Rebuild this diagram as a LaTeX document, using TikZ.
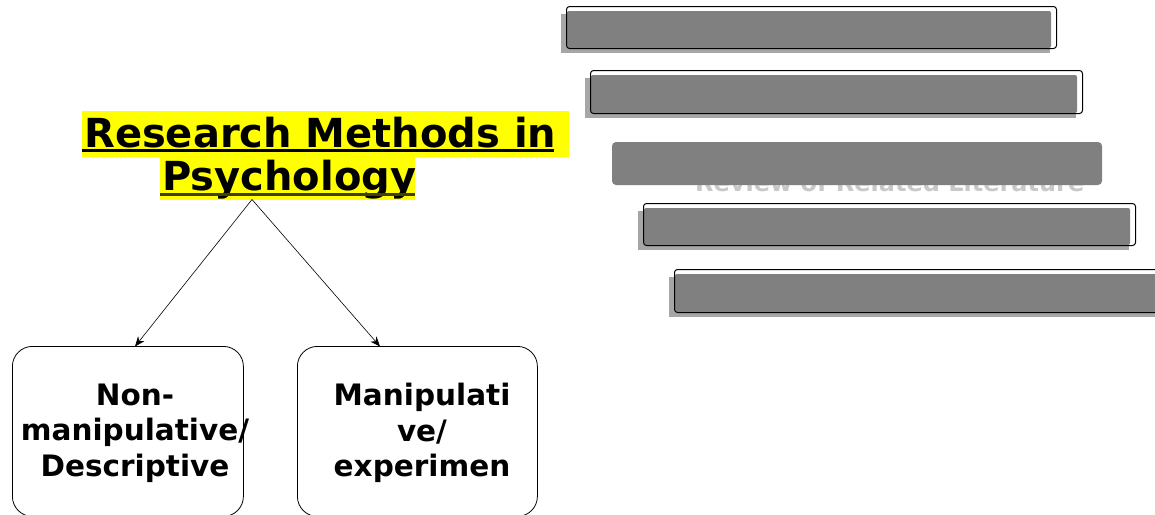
\documentclass[tikz,border=0pt]{standalone}
\usepackage{fontspec}
\setmainfont{DejaVu Sans}
\usetikzlibrary{arrows.meta}
\definecolor{bargray}{HTML}{808080}
\definecolor{shadowgray}{HTML}{A6A6A6}
\definecolor{ghosttext}{HTML}{C8C8C8}
\definecolor{hl}{HTML}{FFFF00}
\tikzset{
  barshadow/.style={fill=shadowgray},
  barwhite/.style={fill=white, rounded corners=3pt},
  barfill/.style={fill=bargray, rounded corners=2pt},
  barframe/.style={draw=black, line width=1pt, rounded corners=3pt, inner sep=0pt},
  methodbox/.style={draw=black, line width=0.8pt, rounded corners=20pt, inner sep=0pt, anchor=north west},
  boxtext/.style={font=\bfseries\fontsize{29.5}{35.5}\selectfont, align=center, inner sep=0pt},
  titletext/.style={font=\bfseries\fontsize{40}{44}\selectfont, inner sep=0pt, anchor=base west},
  branch/.style={draw=black, line width=0.6pt, -{Stealth[length=10pt,width=8pt]}},
}
\newcommand\framedbar[5]{%
  \fill[barshadow] (#2-5,#3+8) rectangle (#4-6,#5+5);
  \fill[barwhite] (#2,#3) rectangle (#4,#5);
  \fill[barfill] (#2+1,#3+5) rectangle (#4-5,#5);
  \node[barframe, anchor=north west, minimum width={(#4-#2)*1pt}, minimum height={(#5-#3)*1pt}] (#1) at (#2,#3) {};
}
\begin{document}
\begin{tikzpicture}[x=1pt,y=-1pt]
\clip (0,0) rectangle (1155,514);
\useasboundingbox (0,0) rectangle (1155,514);

% ---- bars on the right
\framedbar{bar1}{566}{6}{1056}{48}
\framedbar{bar2}{590}{70}{1082}{113}
\node[anchor=base west, inner sep=0pt, text=ghosttext, font=\bfseries\fontsize{24}{28}\selectfont] (rrl) at (695,191) {Review of Related Literature};
\fill[barfill, rounded corners=4pt] (612,142) rectangle (1102,185);
\framedbar{bar4}{643}{203}{1135}{245}
\framedbar{bar5}{674}{269}{1166}{312}

% ---- title
\fill[hl] (82,111) rectangle (569,157);
\fill[hl] (160,157) rectangle (415,200);
\node[titletext] (title1) at (84,147) {Research Methods in};
\node[titletext] (title2) at (162,190.5) {Psychology};
\draw[line width=2.2pt] (82,150.5) -- (554,150.5);
\draw[line width=2.2pt, draw=black!75!hl] (160,194.5) -- (415,194.5);
\coordinate (apex) at (252,199.5);

% ---- boxes
\node[methodbox, minimum width=231pt, minimum height=170pt] (box1) at (12,346) {};
\node[methodbox, minimum width=240pt, minimum height=170pt] (box2) at (297,346) {};
\node[boxtext] (box1text) at (135,433) {Non-\\manipulative/\\Descriptive};
\node[boxtext] (box2text) at (422,433) {Manipulati\\ve/\\experimen};

\coordinate (tip1) at (135,346.5);
\coordinate (tip2) at (380,346.5);
\draw[branch] (apex) -- (tip1);
\draw[branch] (apex) -- (tip2);
\end{tikzpicture}
\end{document}
